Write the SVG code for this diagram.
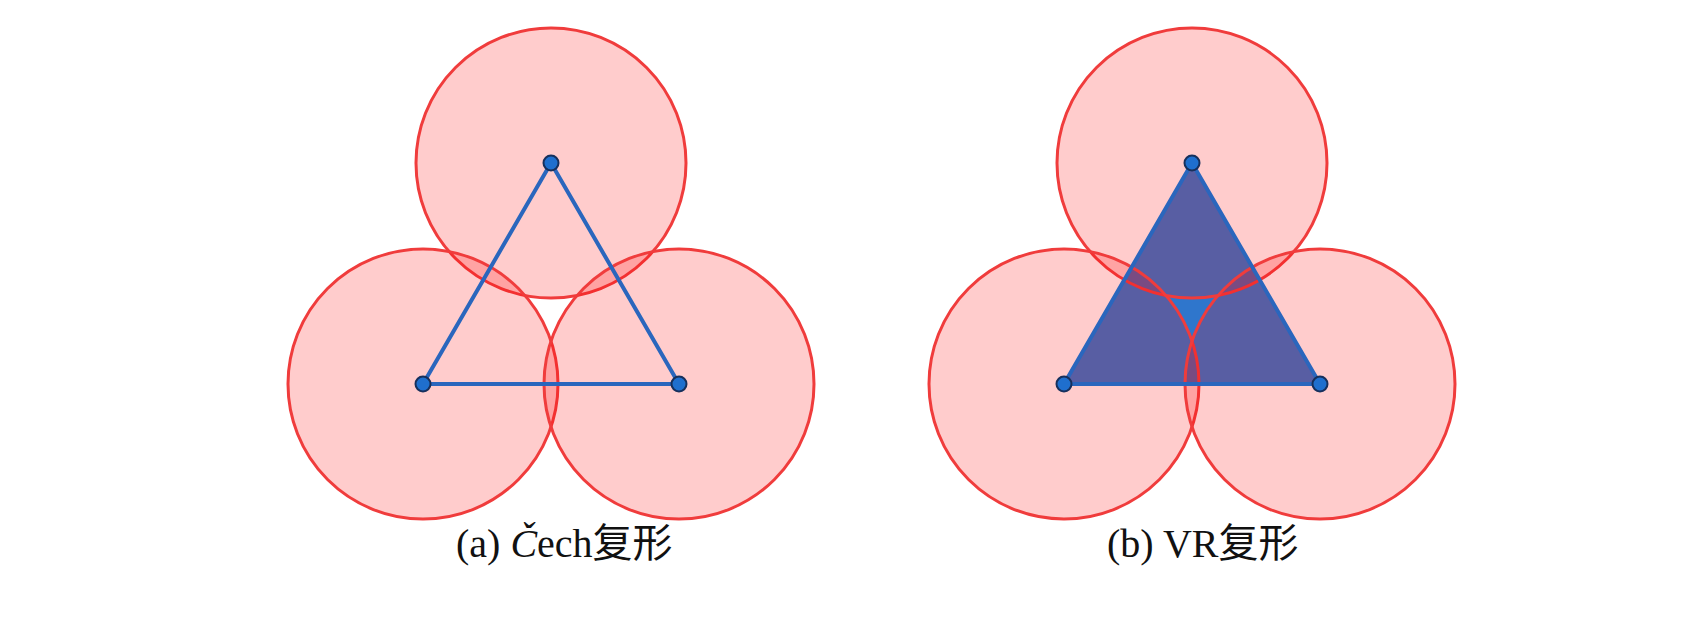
<svg xmlns="http://www.w3.org/2000/svg" width="1699" height="625" viewBox="0 0 1699 625">
  <style>
    .disk { fill: #ff0000; fill-opacity: 0.2; stroke: #f03c3c; stroke-width: 3; }
    .edge { fill: none; stroke: #2a66bd; stroke-width: 4; stroke-linejoin: round; }
    .simplex { fill: #2f76cc; stroke: none; }
    .vertex { fill: #1f6fce; stroke: #17305c; stroke-width: 2; }
    .label { font-family: "Liberation Serif", "Noto Sans CJK SC", serif; font-size: 40px; fill: #111111; }
  </style>
  <rect width="1699" height="625" fill="#ffffff"/>

  <g id="cech">
    <g id="cech-disks">
      <circle class="disk" cx="551" cy="163" r="135"/>
      <circle class="disk" cx="423" cy="384" r="135"/>
      <circle class="disk" cx="679" cy="384" r="135"/>
    </g>
    <g id="cech-connectors">
      <polygon class="edge" points="551,163 423,384 679,384"/>
    </g>
    <g id="cech-vertices">
      <circle id="cech-v1" class="vertex" cx="551" cy="163" r="7.5"/>
      <circle id="cech-v2" class="vertex" cx="423" cy="384" r="7.5"/>
      <circle id="cech-v3" class="vertex" cx="679" cy="384" r="7.5"/>
    </g>
    <text class="label" x="456" y="557">(a) <tspan font-style="italic">Č</tspan>ech复形</text>
  </g>

  <g id="vr">
    <polygon id="vr-simplex" class="simplex" points="1192,163 1064,384 1320,384"/>
    <g id="vr-disks">
      <circle class="disk" cx="1192" cy="163" r="135"/>
      <circle class="disk" cx="1064" cy="384" r="135"/>
      <circle class="disk" cx="1320" cy="384" r="135"/>
    </g>
    <g id="vr-connectors">
      <polygon class="edge" points="1192,163 1064,384 1320,384"/>
    </g>
    <g id="vr-vertices">
      <circle id="vr-v1" class="vertex" cx="1192" cy="163" r="7.5"/>
      <circle id="vr-v2" class="vertex" cx="1064" cy="384" r="7.5"/>
      <circle id="vr-v3" class="vertex" cx="1320" cy="384" r="7.5"/>
    </g>
    <text class="label" x="1107" y="557">(b) VR复形</text>
  </g>
</svg>
